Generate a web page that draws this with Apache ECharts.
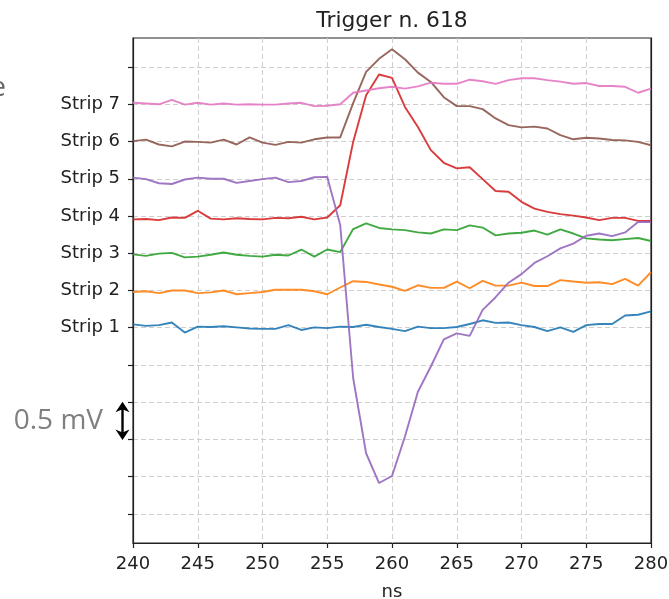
<!DOCTYPE html>
<html>
<head>
<meta charset="utf-8">
<script src="https://cdn.jsdelivr.net/npm/echarts@6/dist/echarts.min.js"></script>
<style>html,body{margin:0;padding:0;background:#fff}#c{width:669px;height:599px}</style>
</head>
<body>
<div id="c"></div>
<script>
var ns = [240,241,242,243,244,245,246,247,248,249,250,251,252,253,254,255,256,257,258,259,260,261,262,263,264,265,266,267,268,269,270,271,272,273,274,275,276,277,278,279,280];
var strip1 = [1.09,1.05,1.07,1.14,0.87,1.03,1.02,1.04,1.01,0.98,0.97,0.97,1.07,0.94,1.01,0.99,1.03,1.02,1.08,1.02,0.97,0.91,1.03,0.99,0.99,1.02,1.10,1.20,1.13,1.14,1.07,1.02,0.91,1.01,0.89,1.07,1.10,1.10,1.33,1.35,1.44];
var strip2 = [1.96,1.98,1.93,2.00,2.00,1.93,1.95,2.00,1.90,1.93,1.96,2.02,2.02,2.02,1.98,1.90,2.08,2.25,2.23,2.16,2.10,1.99,2.14,2.07,2.07,2.24,2.06,2.26,2.13,2.13,2.21,2.12,2.12,2.28,2.24,2.21,2.22,2.17,2.31,2.13,2.49];
var strip3 = [2.97,2.93,2.99,3.01,2.89,2.91,2.96,3.02,2.96,2.93,2.91,2.96,2.94,3.10,2.91,3.10,3.03,3.65,3.80,3.68,3.64,3.62,3.56,3.53,3.64,3.62,3.75,3.69,3.48,3.53,3.55,3.61,3.50,3.64,3.53,3.40,3.37,3.35,3.38,3.41,3.33];
var strip4 = [3.91,3.92,3.89,3.96,3.95,4.14,3.93,3.91,3.94,3.92,3.91,3.95,3.94,3.98,3.91,3.96,4.29,5.99,7.24,7.80,7.71,6.93,6.39,5.77,5.43,5.28,5.31,4.99,4.67,4.65,4.38,4.20,4.11,4.05,4.01,3.96,3.89,3.95,3.95,3.87,3.87];
var strip5 = [5.03,4.99,4.88,4.86,4.98,5.03,5.00,5.00,4.89,4.94,4.99,5.03,4.91,4.94,5.04,5.05,3.76,-0.35,-2.37,-3.17,-2.98,-1.92,-0.72,-0.04,0.69,0.85,0.78,1.48,1.82,2.21,2.44,2.74,2.92,3.13,3.26,3.47,3.53,3.46,3.56,3.84,3.84];
var strip6 = [6.01,6.05,5.92,5.87,6.00,5.99,5.97,6.05,5.92,6.11,5.97,5.91,5.99,5.97,6.06,6.11,6.11,7.03,7.87,8.22,8.48,8.21,7.85,7.60,7.19,6.95,6.95,6.87,6.62,6.44,6.38,6.40,6.35,6.17,6.06,6.10,6.08,6.04,6.03,5.99,5.90];
var strip7 = [7.04,7.02,7.00,7.12,6.99,7.04,6.99,7.02,6.99,7.00,6.99,6.99,7.02,7.04,6.95,6.96,7.00,7.31,7.37,7.43,7.47,7.42,7.48,7.58,7.55,7.55,7.66,7.62,7.55,7.65,7.70,7.70,7.65,7.61,7.55,7.57,7.49,7.49,7.47,7.31,7.42];
var stripNames = ['Strip 1','Strip 2','Strip 3','Strip 4','Strip 5','Strip 6','Strip 7'];
var stripLevels = [1,2,3,4,5,6,7];
var yTickValues = [-4,-3,-2,-1,0,1,2,3,4,5,6,7,8];
var xTicks = [240,245,250,255,260,265,270,275,280];
var colors = ['#1f77b4','#ff7f0e','#2ca02c','#d62728','#9467bd','#8c564b','#e377c2'];

var allStrips = [strip1,strip2,strip3,strip4,strip5,strip6,strip7];
var chart = echarts.init(document.getElementById('c'), null, {renderer:'canvas'});
var FONT = 'DejaVu Sans';
var series = allStrips.map(function(arr, i){
  return {
    type:'line', name: stripNames[i], symbol:'none', animation:false,
    data: ns.map(function(x,k){return [x, arr[k]];}),
    lineStyle:{color:colors[i], width:1.9, opacity:0.9},
    itemStyle:{color:colors[i]}, z: 3
  };
});
chart.setOption({
  animation:false,
  title:{text:'Trigger n. 618', left:387, top:5, textAlign:'center',
    textStyle:{fontFamily:FONT, fontSize:21.8, fontWeight:'normal', color:'#222'}},
  grid:{left:133, right:18, top:38, bottom:56, containLabel:false, outerBoundsMode:'none',
    show:true, borderColor:'#222', borderWidth:1.2, backgroundColor:'transparent'},
  xAxis:{type:'value', min:240, max:280, interval:5, name:'ns', nameLocation:'middle', nameGap:40,
    nameTextStyle:{fontFamily:FONT, fontSize:18, color:'#222'},
    axisLine:{show:true, onZero:false, lineStyle:{color:'#222', width:1.2}},
    axisTick:{show:true, length:5, lineStyle:{color:'#222', width:1.2}},
    axisLabel:{fontFamily:FONT, fontSize:18, color:'#222', margin:12},
    splitLine:{show:true, lineStyle:{color:'#cfcfcf', type:[5,3], width:1.1}}},
  yAxis:[{type:'value', min:-4.78, max:8.78,
    axisLine:{show:true, onZero:false, lineStyle:{color:'#222', width:1.2}},
    axisTick:{show:true, length:5, customValues:yTickValues, lineStyle:{color:'#222', width:1.2}},
    axisLabel:{fontFamily:FONT, fontSize:18, color:'#222', margin:13, customValues:stripLevels,
      formatter:function(v){ var i = stripLevels.indexOf(Math.round(v)); return i>=0 ? stripNames[i] : ''; }},
    splitLine:{show:true, lineStyle:{color:'#cfcfcf', type:[5,3], width:1.1}}},
  {type:'value', position:'right', min:-4.78, max:8.78,
    axisLine:{show:true, onZero:false, lineStyle:{color:'#222', width:1.2}},
    axisTick:{show:false}, axisLabel:{show:false}, splitLine:{show:false}}],
  series: series
});

// annotation: 0.5 mV scale arrow between ticks -1 and -2
var yA = chart.convertToPixel({yAxisIndex:0}, -1);
var yB = chart.convertToPixel({yAxisIndex:0}, -2);
var ax = 122.5;
chart.setOption({graphic:[
  {type:'line', shape:{x1:ax, y1:yA+6, x2:ax, y2:yB-6}, style:{stroke:'#000', lineWidth:2.4}},
  {type:'polygon', shape:{points:[[ax, yA-0.5],[ax-7, yA+10],[ax, yA+7],[ax+7, yA+10]]}, style:{fill:'#000'}},
  {type:'polygon', shape:{points:[[ax, yB+0.5],[ax-7, yB-10],[ax, yB-7],[ax+7, yB-10]]}, style:{fill:'#000'}},
  {type:'text', x:103, y:(yA+yB)/2, style:{text:'0.5 mV', font:'28px "Open Sans"', fill:'#7f7f7f', textAlign:'right', textVerticalAlign:'middle'}},
  {type:'text', x:6, y:88, style:{text:'e', font:'28px "Open Sans"', fill:'#666', textAlign:'right', textVerticalAlign:'middle'}}
]});
</script>
</body>
</html>
